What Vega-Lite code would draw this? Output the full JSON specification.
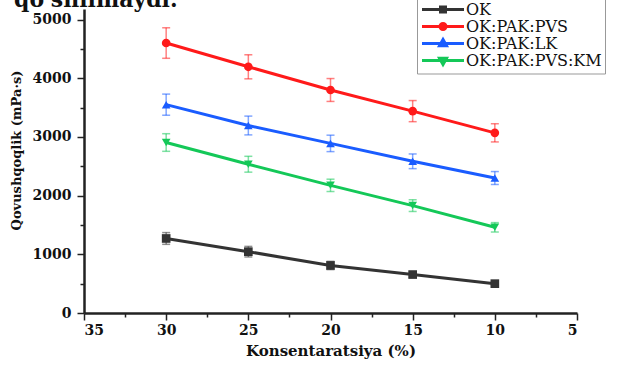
{
  "$schema": "https://vega.github.io/schema/vega-lite/v6.json",
  "width": 493,
  "height": 304,
  "autosize": {"type": "none"},
  "padding": {"left": 84, "top": 9, "right": 45, "bottom": 54},
  "background": "white",
  "title": {"text": "qo'shilmaydi.", "anchor": "start", "frame": "bounds", "orient": "top", "offset": 0, "dy": 13.5, "dx": 4, "font": "DejaVu Serif", "fontSize": 22, "fontWeight": "bold", "color": "#111"},
  "config": {"view": {"stroke": null}},
  "data": {"values": [
    {"series": "OK", "x": 30, "y": 1270, "lo": 1170, "hi": 1370},
    {"series": "OK", "x": 25, "y": 1045, "lo": 955, "hi": 1135},
    {"series": "OK", "x": 20, "y": 810, "lo": 740, "hi": 880},
    {"series": "OK", "x": 15, "y": 655, "lo": 610, "hi": 700},
    {"series": "OK", "x": 10, "y": 500, "lo": 465, "hi": 535},
    {"series": "OK:PAK:PVS", "x": 30, "y": 4600, "lo": 4340, "hi": 4860},
    {"series": "OK:PAK:PVS", "x": 25, "y": 4195, "lo": 3990, "hi": 4400},
    {"series": "OK:PAK:PVS", "x": 20, "y": 3800, "lo": 3605, "hi": 3995},
    {"series": "OK:PAK:PVS", "x": 15, "y": 3440, "lo": 3260, "hi": 3620},
    {"series": "OK:PAK:PVS", "x": 10, "y": 3070, "lo": 2915, "hi": 3225},
    {"series": "OK:PAK:LK", "x": 30, "y": 3550, "lo": 3370, "hi": 3730},
    {"series": "OK:PAK:LK", "x": 25, "y": 3195, "lo": 3035, "hi": 3355},
    {"series": "OK:PAK:LK", "x": 20, "y": 2890, "lo": 2750, "hi": 3030},
    {"series": "OK:PAK:LK", "x": 15, "y": 2585, "lo": 2460, "hi": 2710},
    {"series": "OK:PAK:LK", "x": 10, "y": 2300, "lo": 2190, "hi": 2410},
    {"series": "OK:PAK:PVS:KM", "x": 30, "y": 2905, "lo": 2755, "hi": 3055},
    {"series": "OK:PAK:PVS:KM", "x": 25, "y": 2535, "lo": 2400, "hi": 2670},
    {"series": "OK:PAK:PVS:KM", "x": 20, "y": 2175, "lo": 2070, "hi": 2280},
    {"series": "OK:PAK:PVS:KM", "x": 15, "y": 1830, "lo": 1730, "hi": 1930},
    {"series": "OK:PAK:PVS:KM", "x": 10, "y": 1460, "lo": 1380, "hi": 1540}
  ]},
  "resolve": {"scale": {"shape": "independent"}, "axis": {"x": "independent", "y": "independent"}},
  "layer": [
    {
      "mark": {"type": "errorbar", "ticks": {"size": 8}, "thickness": 1.5, "opacity": 0.55},
      "encoding": {
        "x": {"field": "x", "type": "quantitative",
          "scale": {"domain": [5, 35], "reverse": true, "nice": false, "zero": false},
          "axis": {"orient": "bottom", "values": [35, 30, 25, 20, 15, 10, 5], "format": "d", "title": "Konsentaratsiya (%)", "grid": false,
            "domainColor": "#222", "domainWidth": 2.5, "tickColor": "#222", "tickWidth": 1.5, "tickSize": 7,
            "labelFont": "DejaVu Serif", "labelFontWeight": "bold", "labelFontSize": 14, "labelColor": "#111", "labelPadding": 3,
            "titleFont": "DejaVu Serif", "titleFontWeight": "bold", "titleFontSize": 15, "titleColor": "#111", "titlePadding": 6}},
        "y": {"field": "lo", "type": "quantitative",
          "scale": {"domain": [0, 5180], "nice": false, "zero": true},
          "axis": {"orient": "left", "values": [0, 1000, 2000, 3000, 4000, 5000], "format": "d", "title": "Qovushqoqlik (mPa·s)", "grid": false,
            "domainColor": "#222", "domainWidth": 2.5, "tickColor": "#222", "tickWidth": 1.5, "tickSize": 7,
            "labelFont": "DejaVu Serif", "labelFontWeight": "bold", "labelFontSize": 14, "labelColor": "#111", "labelPadding": 6,
            "titleFont": "DejaVu Serif", "titleFontWeight": "bold", "titleFontSize": 13, "titleColor": "#111", "titlePadding": 9, "titleY": 141}},
        "y2": {"field": "hi"},
        "color": {"field": "series", "type": "nominal", "legend": null,
          "scale": {"domain": ["OK", "OK:PAK:PVS", "OK:PAK:LK", "OK:PAK:PVS:KM"], "range": ["#333333", "#ff1a1a", "#1a5cff", "#14c858"]}}
      }
    },
    {
      "mark": {"type": "line", "strokeWidth": 3},
      "encoding": {
        "x": {"field": "x", "type": "quantitative", "axis": null},
        "y": {"field": "y", "type": "quantitative", "axis": null},
        "color": {"field": "series", "type": "nominal", "legend": null}
      }
    },
    {
      "mark": {"type": "point", "filled": true, "opacity": 1, "size": 75},
      "encoding": {
        "x": {"field": "x", "type": "quantitative", "axis": null},
        "y": {"field": "y", "type": "quantitative", "axis": null},
        "color": {"field": "series", "type": "nominal", "legend": null},
        "shape": {"field": "series", "type": "nominal", "legend": null,
          "scale": {"domain": ["OK", "OK:PAK:PVS", "OK:PAK:LK", "OK:PAK:PVS:KM"], "range": ["square", "circle", "triangle-up", "triangle-down"]}}
      }
    },
    {
      "mark": {"type": "point", "filled": true, "opacity": 0, "size": 100},
      "encoding": {
        "x": {"field": "x", "type": "quantitative", "axis": null},
        "y": {"field": "y", "type": "quantitative", "axis": null},
        "color": {"field": "series", "type": "nominal", "legend": null},
        "shape": {"field": "series", "type": "nominal",
          "scale": {"domain": ["OK", "OK:PAK:PVS", "OK:PAK:LK", "OK:PAK:PVS:KM"],
            "range": [
              "M-4.2,0H4.2M-0.5,-0.5H0.5V0.5H-0.5Z",
              "M-4.2,0H4.2M0.6,0A0.6,0.6,0,1,1,-0.6,0A0.6,0.6,0,1,1,0.6,0Z",
              "M-4.2,0H4.2M0,-0.8L0.7,0.45H-0.7Z",
              "M-4.2,0H4.2M0,0.8L0.7,-0.45H-0.7Z"
            ]},
          "legend": {"title": null, "orient": "none", "legendX": 333, "legendY": -10.5,
            "symbolSize": 100, "symbolOffset": 15, "labelOffset": 15, "symbolStrokeWidth": 3, "symbolOpacity": 1,
            "symbolFillColor": {"expr": "scale('color', datum.value)"},
            "symbolStrokeColor": {"expr": "scale('color', datum.value)"},
            "labelFont": "DejaVu Serif", "labelFontSize": 16, "labelColor": "#111", "rowPadding": -3,
            "padding": 3, "strokeColor": "#999", "fillColor": "white"}
        }
      }
    },
    {
      "mark": {"type": "point", "opacity": 0},
      "encoding": {
        "x": {"field": "x", "type": "quantitative",
          "axis": {"orient": "bottom", "values": [32.5, 27.5, 22.5, 17.5, 12.5, 7.5], "labels": false, "domain": false, "grid": false, "title": null, "tickSize": 4, "tickWidth": 1.5, "tickColor": "#222"}},
        "y": {"field": "y", "type": "quantitative",
          "axis": {"orient": "left", "values": [500, 1500, 2500, 3500, 4500], "labels": false, "domain": false, "grid": false, "title": null, "tickSize": 4, "tickWidth": 1.5, "tickColor": "#222"}}
      }
    }
  ]
}
